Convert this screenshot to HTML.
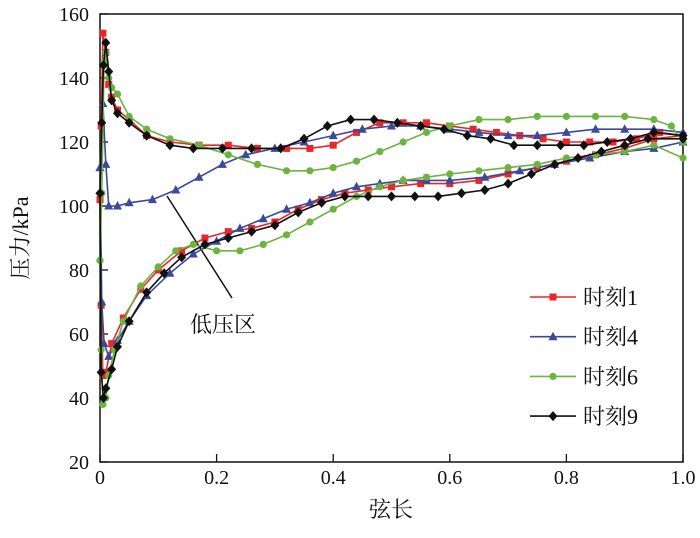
<!DOCTYPE html>
<html><head><meta charset="utf-8"><style>
body{margin:0;background:#fff}
svg text{font-family:"Liberation Serif","Noto Serif CJK SC",serif;fill:#111}
</style></head><body>
<svg width="700" height="533" xmlns="http://www.w3.org/2000/svg">
<g id="plot"></g>
</svg>
<script>
const xTicks=[0,0.2,0.4,0.6,0.8,1.0];
const xTickLabels=["0","0.2","0.4","0.6","0.8","1.0"];
const yTicks=[20,40,60,80,100,120,140,160];
const yTickLabels=["20","40","60","80","100","120","140","160"];
const seriesNames=["时刻1","时刻4","时刻6","时刻9"];
const redUpperX=[0,0.002,0.005,0.01,0.015,0.02,0.03,0.05,0.08,0.12,0.17,0.22,0.27,0.32,0.36,0.4,0.44,0.48,0.52,0.56,0.6,0.64,0.68,0.72,0.76,0.8,0.84,0.88,0.92,0.96,1.0];
const redUpperP=[102,125,154,148,138,134,130,127,122,120,119,119,118,118,118,119,123,126,126,126,125,124,123,122,121,120,120,120,121,123,122];
const redLowerX=[0,0.002,0.005,0.01,0.02,0.04,0.07,0.1,0.14,0.18,0.22,0.26,0.3,0.34,0.38,0.42,0.46,0.5,0.55,0.6,0.65,0.7,0.75,0.8,0.85,0.9,0.95,1.0];
const redLowerP=[102,69,47,48,57,65,74,80,86,90,92,93,95,99,102,104,105,106,107,107,108,110,112,114,116,118,121,122];
const blueUpperX=[0,0.005,0.01,0.015,0.03,0.05,0.09,0.13,0.17,0.21,0.25,0.3,0.35,0.4,0.45,0.5,0.55,0.6,0.65,0.7,0.75,0.8,0.85,0.9,0.95,1.0];
const blueUpperP=[112,132,113,100,100,101,102,105,109,113,116,118,120,122,124,125,125,124,123,122,122,123,124,124,124,123];
const blueLowerX=[0,0.003,0.007,0.015,0.03,0.05,0.08,0.12,0.16,0.2,0.24,0.28,0.32,0.36,0.4,0.44,0.48,0.52,0.56,0.6,0.66,0.72,0.78,0.84,0.9,0.95,1.0];
const blueLowerP=[112,70,57,53,58,64,72,79,85,89,93,96,99,101,104,106,107,108,108,108,109,111,113,115,117,118,120];
const greenUpperX=[0,0.003,0.007,0.01,0.015,0.02,0.03,0.05,0.08,0.12,0.17,0.22,0.27,0.32,0.36,0.4,0.44,0.48,0.52,0.56,0.6,0.65,0.7,0.75,0.8,0.85,0.9,0.95,0.98,1.0];
const greenUpperP=[83,104,145,148,140,137,135,128,124,121,119,116,113,111,111,112,114,117,120,123,125,127,127,128,128,128,128,127,125,120];
const greenLowerX=[0,0.002,0.005,0.01,0.015,0.025,0.04,0.07,0.1,0.13,0.16,0.2,0.24,0.28,0.32,0.36,0.4,0.44,0.48,0.52,0.56,0.6,0.65,0.7,0.75,0.8,0.85,0.9,0.95,1.0];
const greenLowerP=[83,55,38,40,47,55,64,75,81,86,88,86,86,88,91,95,99,103,106,108,109,110,111,112,113,115,116,117,119,115];
const blackUpperX=[0,0.003,0.006,0.01,0.015,0.02,0.03,0.05,0.08,0.12,0.16,0.21,0.26,0.31,0.35,0.39,0.43,0.47,0.51,0.55,0.59,0.63,0.67,0.71,0.75,0.79,0.83,0.87,0.91,0.95,1.0];
const blackUpperP=[104,126,144,151,142,133,129,126,122,119,118,118,118,118,121,125,127,127,126,125,124,122,121,119,119,119,119,120,121,123,122];
const blackLowerX=[0,0.002,0.006,0.01,0.02,0.03,0.05,0.08,0.11,0.14,0.18,0.22,0.26,0.3,0.34,0.38,0.42,0.46,0.5,0.54,0.58,0.62,0.66,0.7,0.74,0.78,0.82,0.86,0.9,0.94,1.0];
const blackLowerP=[104,48,40,43,49,56,64,73,79,84,88,90,92,94,98,101,103,103,103,103,103,104,105,107,110,113,115,117,119,121,121];

const X0=100,X1=683,Y0=462,Y1=14;
const sx=v=>X0+(v-0)/(1-0)*(X1-X0);
const sy=v=>Y0-(v-20)/(160-20)*(Y0-Y1);
const NS="http://www.w3.org/2000/svg";
const g=document.getElementById('plot');
function mk(t,a,parent){const e=document.createElementNS(NS,t);for(const k in a)e.setAttribute(k,a[k]);(parent||g).appendChild(e);return e;}

// frame
const fr=mk('rect',{x:X0,y:Y1,width:X1-X0,height:Y0-Y1,fill:'none',stroke:'#111','stroke-width':1.5});


xTicks.forEach((v,i)=>{
 const t=mk('line',{x1:sx(v),x2:sx(v),y1:Y0,y2:Y0-8,stroke:'#111','stroke-width':1.3});
 
 
 const l=mk('text',{x:sx(v),y:484,'text-anchor':'middle','font-size':20});
 l.textContent=xTickLabels[i];
 
 
});
yTicks.forEach((v,i)=>{
 const t=mk('line',{x1:X0,x2:X0+8,y1:sy(v),y2:sy(v),stroke:'#111','stroke-width':1.3});
 
 
 const l=mk('text',{x:89,y:sy(v)+7,'text-anchor':'end','font-size':20});
 l.textContent=yTickLabels[i];
 
 
});
const xt=mk('text',{x:391,y:517,'text-anchor':'middle','font-size':22});
xt.textContent='弦长';


const yt=mk('text',{x:0,y:0,'text-anchor':'middle','font-size':22,transform:'translate(28,238) rotate(-90)'});
yt.textContent='压力/kPa';



// annotation
const al=mk('line',{x1:167,y1:196,x2:232,y2:298,stroke:'#111','stroke-width':1.5});


const at=mk('text',{x:190,y:332,'font-size':22});
at.textContent='低压区';



const colors=['#e8272a','#3a4a9a','#6db33f','#111'];
const shapes=['square','triangle','circle','diamond'];
const data=[[redUpperX,redUpperP,redLowerX,redLowerP],[blueUpperX,blueUpperP,blueLowerX,blueLowerP],[greenUpperX,greenUpperP,greenLowerX,greenLowerP],[blackUpperX,blackUpperP,blackLowerX,blackLowerP]];
function marker(shape,x,y,c,parent){
 let e;
 if(shape==='square')e=mk('rect',{x:x-3.5,y:y-3.5,width:7,height:7,fill:c},parent);
 else if(shape==='triangle')e=mk('polygon',{points:`${x},${y-5} ${x-4.5},${y+3.5} ${x+4.5},${y+3.5}`,fill:c},parent);
 else if(shape==='circle')e=mk('circle',{cx:x,cy:y,r:3.6,fill:c},parent);
 else e=mk('polygon',{points:`${x},${y-5} ${x+4.5},${y} ${x},${y+5} ${x-4.5},${y}`,fill:c},parent);
 
 
}
data.forEach((d,si)=>{
 const grp=mk('g',{});
 
 
 for(let k=0;k<2;k++){
  const xs=d[k*2],ps=d[k*2+1];
  const pts=xs.map((v,i)=>sx(v)+','+sy(ps[i])).join(' ');
  const pl=mk('polyline',{points:pts,fill:'none',stroke:colors[si],'stroke-width':1.6},grp);
  
  
  xs.forEach((v,i)=>marker(shapes[si],sx(v),sy(ps[i]),colors[si],grp));
 }
});
// legend
seriesNames.forEach((n,i)=>{
 const y=297+i*39.7;
 const lg=mk('g',{});
 
 
 const ln=mk('line',{x1:530,x2:576,y1:y,y2:y,stroke:colors[i],'stroke-width':1.6},lg);
 
 
 marker(shapes[i],553,y,colors[i],lg);
 const t=mk('text',{x:583,y:y+8,'font-size':22},lg);
 t.textContent=n;
 
 
});
</script>
</body></html>
